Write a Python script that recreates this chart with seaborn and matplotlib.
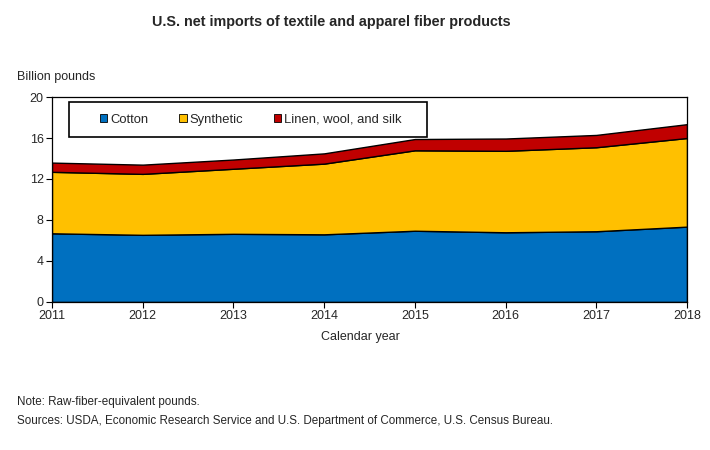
import matplotlib
matplotlib.use("Agg")
import matplotlib.pyplot as plt
from matplotlib.patches import Rectangle
import seaborn as sns
import numpy as np

# values (billion pounds)
years = [2011, 2012, 2013, 2014, 2015, 2016, 2017, 2018]
cotton = [6.7, 6.55, 6.65, 6.6, 6.95, 6.8, 6.9, 7.35]
synthetic = [6.0, 5.95, 6.35, 6.9, 7.85, 7.95, 8.2, 8.65]
linen_wool_silk = [0.9, 0.9, 0.9, 1.0, 1.1, 1.2, 1.2, 1.35]
labels = ["Cotton", "Synthetic", "Linen, wool, and silk"]
colors = ["#0070C0", "#FFC000", "#C00000"]

sns.set_style("ticks")
plt.rcParams['font.family'] = ['Liberation Sans', 'DejaVu Sans']

fig = plt.figure(figsize=(7.1, 4.5), dpi=100)
ax = fig.add_axes([0.0732, 0.329, 0.8944, 0.4554])

ax.stackplot(years, cotton, synthetic, linen_wool_silk, labels=labels,
             colors=colors, edgecolor="black", linewidth=1.0)

ax.set_xlim(2011, 2018)
ax.set_ylim(0, 20)
ax.set_yticks(range(0, 21, 4))
ax.set_xticks(years)
ax.tick_params(axis="both", labelsize=9, length=4, width=0.8, color="black", pad=2)
for s in ax.spines.values():
    s.set_visible(True)
    s.set_color("black")
    s.set_linewidth(0.9)
ax.set_xlabel("Calendar year", fontsize=9)
ax.xaxis.set_label_coords(0.485, -0.14)
ax.set_ylabel("")

# legend frame drawn separately so the side padding can be wider
ax.add_patch(Rectangle((0.027, 0.805), 0.564, 0.17, transform=ax.transAxes,
                       facecolor="white", edgecolor="black", linewidth=1.2, zorder=4))
leg = ax.legend(loc="center left", bbox_to_anchor=(0.075, 0.89), ncol=3,
                fontsize=9.4, frameon=False,
                handlelength=0.6, handleheight=0.6, handletextpad=0.2,
                columnspacing=2.35, borderpad=0, borderaxespad=0)
leg.set_zorder(5)
for h in leg.legend_handles:
    h.set_edgecolor("black")
    h.set_linewidth(0.6)

fig.text(0.466, 0.951, "U.S. net imports of textile and apparel fiber products",
         ha="center", va="center", fontsize=10.4, fontweight="bold")
fig.text(0.024, 0.829, "Billion pounds", ha="left", va="center", fontsize=9)
fig.text(0.024, 0.107, "Note: Raw-fiber-equivalent pounds.", ha="left",
         va="center", fontsize=8.4)
fig.text(0.024, 0.065, "Sources: USDA, Economic Research Service and U.S. Department "
         "of Commerce, U.S. Census Bureau.", ha="left", va="center", fontsize=8.4)

fig.savefig("out.png", dpi=100)
